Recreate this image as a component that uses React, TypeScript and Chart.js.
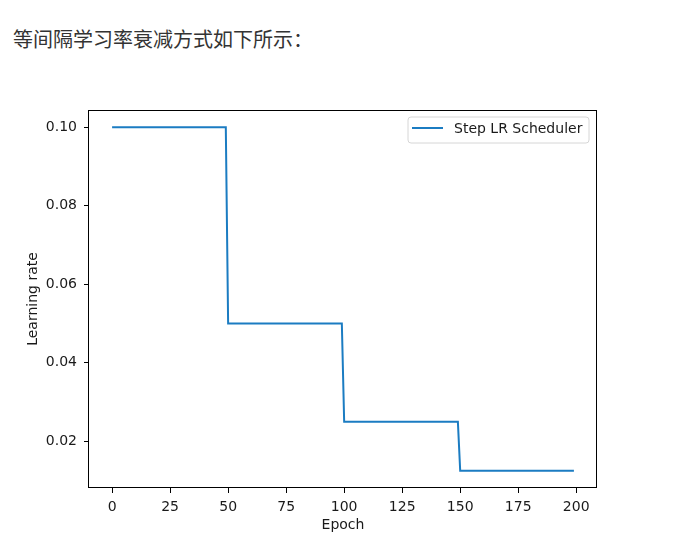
import React, { useEffect, useRef } from "react";
import { Chart, registerables } from "chart.js";

Chart.register(...registerables);

const HEADER = "等间隔学习率衰减方式如下所示：";
const SERIES_LABEL = "Step LR Scheduler";
const EPOCHS = [0, 49, 50, 99, 100, 149, 150, 199];
const LR = [0.1, 0.1, 0.05, 0.05, 0.025, 0.025, 0.0125, 0.0125];
const X_TICKS = [0, 25, 50, 75, 100, 125, 150, 175, 200];
const Y_TICKS = [0.02, 0.04, 0.06, 0.08, 0.1];
const X_TITLE = "Epoch";
const Y_TITLE = "Learning rate";

const FONT = "'DejaVu Sans', sans-serif";
const LINE_COLOR = "#1b7cc2";

const framePlugin = {
  id: "frameAndLegend",
  afterDraw(chart: any) {
    const { ctx, chartArea } = chart;
    const { left, right, top, bottom } = chartArea;
    ctx.save();
    ctx.strokeStyle = "#000";
    ctx.lineWidth = 1;
    ctx.strokeRect(Math.round(left) - 0.5, Math.round(top) + 0.5, Math.round(right - left) + 0.0, Math.round(bottom - top) - 1);
    // legend
    const bw = 181;
    const bh = 26;
    const bx = right - 8 - bw;
    const by = top + 7;
    const r = 3;
    ctx.beginPath();
    ctx.moveTo(bx + r, by);
    ctx.lineTo(bx + bw - r, by);
    ctx.quadraticCurveTo(bx + bw, by, bx + bw, by + r);
    ctx.lineTo(bx + bw, by + bh - r);
    ctx.quadraticCurveTo(bx + bw, by + bh, bx + bw - r, by + bh);
    ctx.lineTo(bx + r, by + bh);
    ctx.quadraticCurveTo(bx, by + bh, bx, by + bh - r);
    ctx.lineTo(bx, by + r);
    ctx.quadraticCurveTo(bx, by, bx + r, by);
    ctx.closePath();
    ctx.fillStyle = "rgba(255,255,255,0.8)";
    ctx.fill();
    ctx.strokeStyle = "#d6d6d6";
    ctx.lineWidth = 1;
    ctx.stroke();
    ctx.beginPath();
    ctx.strokeStyle = LINE_COLOR;
    ctx.lineWidth = 2;
    ctx.moveTo(bx + 4, by + 11);
    ctx.lineTo(bx + 35, by + 11);
    ctx.stroke();
    ctx.fillStyle = "#1a1a1a";
    ctx.font = `14px ${FONT}`;
    ctx.textBaseline = "middle";
    ctx.textAlign = "left";
    ctx.fillText(SERIES_LABEL, bx + 46, by + 12);
    ctx.restore();
  },
};

export default function App() {
  const ref = useRef<HTMLCanvasElement>(null);
  useEffect(() => {
    if (!ref.current) return;
    const chart = new Chart(ref.current, {
      type: "line",
      data: {
        datasets: [
          {
            label: SERIES_LABEL,
            data: EPOCHS.map((e, i) => ({ x: e, y: LR[i] })),
            borderColor: LINE_COLOR,
            borderWidth: 2,
            pointRadius: 0,
            tension: 0,
            fill: false,
          },
        ],
      },
      options: {
        animation: false,
        responsive: false,
        maintainAspectRatio: false,
        layout: { padding: { left: 21, right: 77, top: 110, bottom: 3 } },
        plugins: { legend: { display: false }, tooltip: { enabled: false } },
        scales: {
          x: {
            type: "linear",
            min: -9.95,
            max: 208.95,
            afterBuildTicks: (s: any) => {
              s.ticks = X_TICKS.map((v) => ({ value: v }));
            },
            afterFit: (s: any) => {
              s.height = 50;
            },
            grid: { drawOnChartArea: false, drawTicks: true, tickLength: 5, color: "#000", tickColor: "#000" },
            border: { display: false },
            ticks: {
              color: "#1a1a1a",
              font: { family: FONT, size: 14 },
              padding: 6,
              maxRotation: 0,
              autoSkip: false,
              callback: (v: any) => String(v),
            },
            title: {
              display: true,
              text: X_TITLE,
              color: "#1a1a1a",
              font: { family: FONT, size: 14 },
              padding: { top: 0, bottom: 4 },
            },
          },
          y: {
            type: "linear",
            min: 0.008125,
            max: 0.104375,
            afterBuildTicks: (s: any) => {
              s.ticks = Y_TICKS.map((v) => ({ value: v }));
            },
            afterFit: (s: any) => {
              s.width = 68;
            },
            grid: { drawOnChartArea: false, drawTicks: true, tickLength: 5, color: "#000", tickColor: "#000" },
            border: { display: false },
            ticks: {
              color: "#1a1a1a",
              font: { family: FONT, size: 14 },
              padding: 7,
              autoSkip: false,
              callback: (v: any) => Number(v).toFixed(2),
            },
            title: {
              display: true,
              text: Y_TITLE,
              color: "#1a1a1a",
              font: { family: FONT, size: 14 },
              padding: { top: 4, bottom: 0 },
            },
          },
        },
      },
      plugins: [framePlugin],
    });
    return () => chart.destroy();
  }, []);

  return (
    <div style={{ position: "absolute", left: 0, top: 0, width: 674, height: 541, background: "#fff", overflow: "hidden" }}>
      <div
        style={{
          position: "absolute",
          left: 13,
          top: 28,
          fontFamily: "'Noto Sans CJK SC', sans-serif",
          fontSize: 20,
          lineHeight: "21px",
          color: "#333",
          whiteSpace: "nowrap",
        }}
      >
        {HEADER}
      </div>
      <canvas ref={ref} width={674} height={541} style={{ position: "absolute", left: 0, top: 0, width: 674, height: 541 }} />
    </div>
  );
}
